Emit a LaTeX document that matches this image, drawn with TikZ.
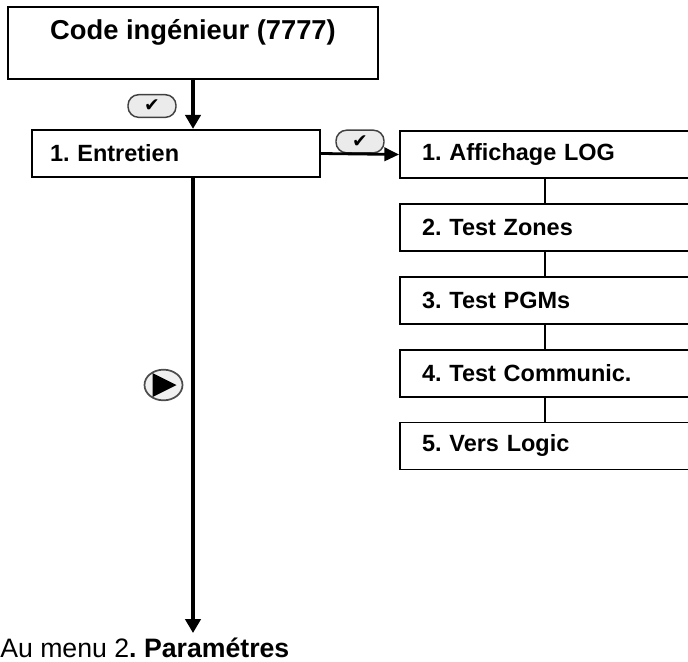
\documentclass[tikz,border=0pt]{standalone}
\usepackage{fontspec}
\setmainfont{Liberation Sans}
\newfontfamily\symfont{DejaVu Sans}
\frenchspacing
\usetikzlibrary{arrows.meta, positioning, shapes.geometric}
\tikzset{
    titlebox/.style={rectangle, draw=black, line width=2pt, minimum width=277.5pt, minimum height=54pt, inner sep=0pt, text height=15pt, text depth=21pt, font=\fontsize{20.5}{24}\selectfont\bfseries},
    mainbox/.style={rectangle, draw=black, line width=1.7pt, minimum width=216pt, minimum height=35.25pt, inner xsep=13.5pt, text width=189pt, align=left, font=\fontsize{17.6}{21}\selectfont\bfseries},
    subbox/.style={rectangle, draw=black, line width=1.4pt, minimum width=217.5pt, minimum height=35.25pt, inner xsep=16.5pt, text width=184.5pt, align=left, font=\fontsize{17.6}{21}\selectfont\bfseries},
    okkey/.style={rectangle, rounded corners=8pt, draw=black!75, line width=1.1pt, fill=black!8, minimum width=36pt, minimum height=17pt, inner sep=0pt, font=\symfont\fontsize{14}{14}\selectfont},
    playkey/.style={ellipse, draw=black!70, line width=1.3pt, fill=black!6, minimum width=28.5pt, minimum height=23pt, inner sep=0pt},
    arrow/.style={line width=2.5pt,-{Triangle[width=11.5pt,length=10.5pt]}},
    link/.style={line width=1.1pt}
}
\begin{document}
\begin{tikzpicture}[x=0.75pt, y=-0.75pt, node distance=18pt]
    \clip (0,0) rectangle (688,661);
    \node (code) [titlebox] at (193,43) {Code ingénieur (7777)};
    \node (entretien) [mainbox] at (176,153.5) {1. Entretien};
    \node (log) [subbox] at (545,154.5) {1. Affichage LOG};
    \node (zones) [subbox, below=of log] {2. Test Zones};
    \node (pgm) [subbox, below=of zones] {3. Test PGMs};
    \node (comm) [subbox, below=of pgm] {4. Test Communic.};
    \node (logic) [subbox, below=of comm] {5. Vers Logic};
    \node (next) [anchor=base west, inner sep=0pt, font=\fontsize{20}{24}\selectfont] at (0,657) {Au menu 2\textbf{. Paramétres}};
    \coordinate (tip) at (193,633);

    \node (ok1) [okkey] at (152,106) {✔};
    \node (ok2) [okkey] at (360,141.5) {✔};
    \node (play) [playkey] at (163.5,385) {};
    \fill (play.center) ++(-11,-12) -- ++(24,12) -- ++(-24,12) -- cycle;

    \draw [arrow] (code.south) -- (code.south |- entretien.north);
    \draw [arrow] (code.south |- entretien.south) -- (tip);
    \draw [arrow, line width=2.1pt, -{Triangle[width=10pt,length=11pt]}] (entretien.east) -- (log.west);
    \draw [link] (log) -- (zones);
    \draw [link] (zones) -- (pgm);
    \draw [link] (pgm) -- (comm);
    \draw [link] (comm) -- (logic);
\end{tikzpicture}
\end{document}
